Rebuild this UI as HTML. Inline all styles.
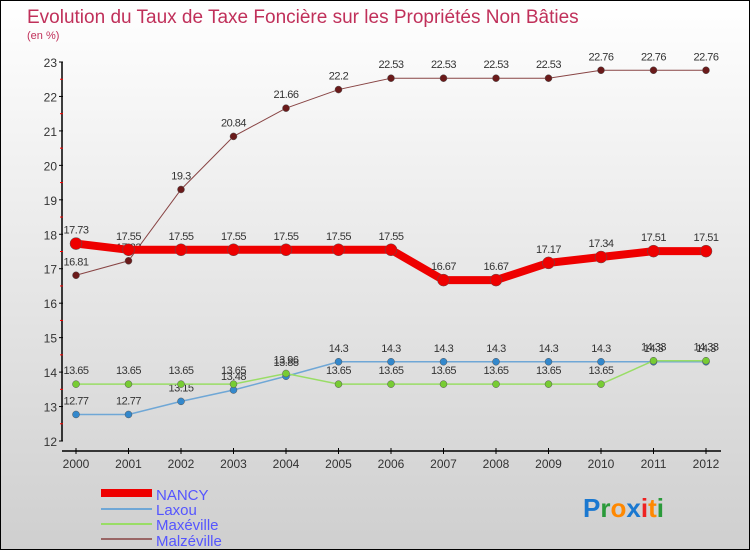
<!DOCTYPE html>
<html><head><meta charset="utf-8"><style>
html,body{margin:0;padding:0}
#wrap{position:relative;width:748px;height:548px;border:1px solid #000;background:linear-gradient(#ffffff,#cfcfcf);overflow:hidden;font-family:"Liberation Sans",sans-serif}
svg text{font-family:"Liberation Sans",sans-serif}
</style></head><body>
<div id="wrap">
<svg id="chart" width="748" height="548">
<text x="26" y="22" font-size="19" fill="#c0305a">Evolution du Taux de Taxe Foncière sur les Propriétés Non Bâties</text>
<text x="26" y="38" font-size="11" fill="#c0305a">(en %)</text>
<g id="axes"></g><g id="series"></g>
<g id="legend">
<rect x="100" y="488" width="51" height="8" fill="#ee0000"/>
<text x="155" y="499" font-size="15" fill="#5555ff">NANCY</text>
<rect x="100" y="507" width="51" height="2" fill="#6fa7d6"/>
<text x="155" y="514" font-size="15" fill="#5555ff">Laxou</text>
<rect x="100" y="522" width="51" height="2" fill="#99dd66"/>
<text x="155" y="529" font-size="15" fill="#5555ff">Maxéville</text>
<rect x="100" y="537" width="51" height="2" fill="#996666"/>
<text x="155" y="545" font-size="15" fill="#5555ff">Malzéville</text>
</g>
<g font-size="26" font-weight="bold">
<text x="582" y="516"><tspan fill="#1a78d0">P</tspan><tspan fill="#2a9a3a">r</tspan><tspan fill="#ff8800">o</tspan><tspan fill="#1a78d0">x</tspan><tspan fill="#ee2222">i</tspan><tspan fill="#ff8800">t</tspan><tspan fill="#2a9a3a">i</tspan></text>
</g>
</svg>
</div>
<script>
const years=[2000,2001,2002,2003,2004,2005,2006,2007,2008,2009,2010,2011,2012];
const yTicks=[12,13,14,15,16,17,18,19,20,21,22,23];
const nancy=[17.73,17.55,17.55,17.55,17.55,17.55,17.55,16.67,16.67,17.17,17.34,17.51,17.51];
const laxou=[12.77,12.77,13.15,13.48,13.88,14.3,14.3,14.3,14.3,14.3,14.3,14.3,14.3];
const maxeville=[13.65,13.65,13.65,13.65,13.96,13.65,13.65,13.65,13.65,13.65,13.65,14.33,14.33];
const malzeville=[16.81,17.23,19.3,20.84,21.66,22.2,22.53,22.53,22.53,22.53,22.76,22.76,22.76];
const NS='http://www.w3.org/2000/svg';
const X=i=>75+(705-75)*i/(years.length-1);
const Y=v=>440-(v-12)*(440-61)/11;
function mk(t,a,p){const e=document.createElementNS(NS,t);for(const k in a)e.setAttribute(k,a[k]);p.appendChild(e);return e;}
const ax=document.getElementById('axes');
let l=mk('line',{x1:61,y1:Y(23),x2:61,y2:Y(12),stroke:'#000','stroke-width':1.5},ax);


l=mk('line',{x1:61,y1:450,x2:720,y2:450,stroke:'#000','stroke-width':1.5},ax);


yTicks.forEach((v,i)=>{
 mk('line',{x1:58,x2:62,y1:Y(v),y2:Y(v),stroke:'#000'},ax);
 if(i<yTicks.length-1)mk('line',{x1:59,x2:62,y1:Y(v+0.5),y2:Y(v+0.5),stroke:'#f00'},ax);
 const t=mk('text',{x:56,y:Y(v)+5,'text-anchor':'end','font-size':12,fill:'#333'},ax);
 t.textContent=v;
 
 
});
years.forEach((yr,i)=>{
 mk('line',{x1:X(i),x2:X(i),y1:447,y2:453,stroke:'#000'},ax);
 const t=mk('text',{x:X(i),y:467,'text-anchor':'middle','font-size':12,fill:'#333'},ax);
 t.textContent=yr;
 
 
});
const sg=document.getElementById('series');
function draw(vals,color,w,dotFill,r,name){
 const g=mk('g',{},sg);
 
 
 const pl=mk('polyline',{points:vals.map((v,i)=>X(i)+','+Y(v)).join(' '),fill:'none',stroke:color,'stroke-width':w},g);
 
 
 vals.forEach((v,i)=>{
  const c=mk('circle',{cx:X(i),cy:Y(v),r:r,fill:dotFill,stroke:'#555','stroke-width':0.5},g);
  
  
  const t=mk('text',{x:X(i),y:Y(v)-10,'text-anchor':'middle','font-size':11,fill:'#333','letter-spacing':'-0.5'},g);
  t.textContent=v;
  
  
 });
}
draw(malzeville,'#884444',1,'#6a1a1a',3.5,'malzeville');
draw(laxou,'#6fa7d6',1.5,'#3388cc',3.5,'laxou');
draw(maxeville,'#99dd66',1.5,'#77cc33',3.5,'maxeville');
draw(nancy,'#ee0000',8,'#ee0000',6,'nancy');
</script>
</body></html>
